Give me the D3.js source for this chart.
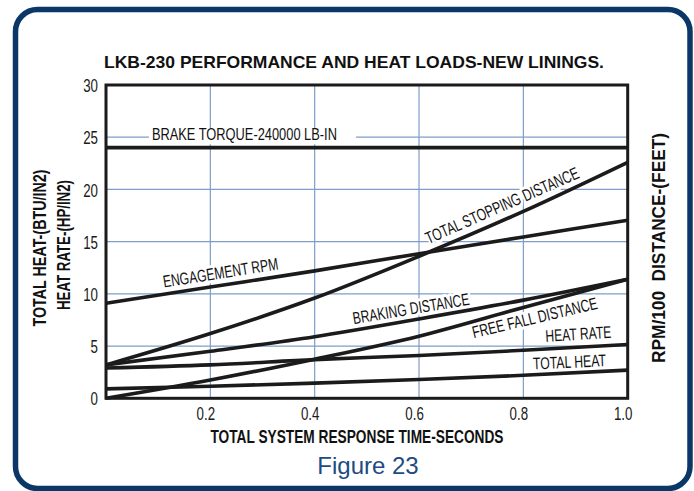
<!DOCTYPE html>
<html><head><meta charset="utf-8">
<script src="https://cdn.jsdelivr.net/npm/d3@7"></script>
<style>
html,body{margin:0;padding:0;background:#fff;}
svg{display:block;}
text{font-family:"Liberation Sans",Arial,Helvetica,sans-serif;}
</style></head><body>
<svg id="chart" width="694" height="491"></svg>
<script>
// ---- data ----
const xValues        = [0, 0.2, 0.4, 0.6, 0.8, 1.0];
const brakeTorque    = [24, 24, 24, 24, 24, 24];
const engagementRpm  = [9.1, 10.65, 12.2, 13.85, 15.45, 17.05];
const totalStopping  = [3.2, 6.2, 9.6, 13.6, 17.9, 22.6];
const brakingDist    = [3.2, 4.5, 5.9, 7.6, 9.4, 11.4];
const freeFallDist   = [0, 1.75, 3.75, 5.95, 8.7, 11.4];
const heatRate       = [2.9, 3.2, 3.7, 4.1, 4.6, 5.15];
const totalHeat      = [0.9, 1.15, 1.45, 1.8, 2.2, 2.7];
const xTicks = [0.2, 0.4, 0.6, 0.8, 1.0];
const yTicks = [0, 5, 10, 15, 20, 25, 30];
const seriesNames = ["BRAKE TORQUE-240000 LB-IN", "ENGAGEMENT RPM", "TOTAL STOPPING DISTANCE",
  "BRAKING DISTANCE", "FREE FALL DISTANCE", "HEAT RATE", "TOTAL HEAT"];
// label anchors in data units (x, y)
const labelAnchorX = [0.088, 0.111, 0.618, 0.475, 0.705, 0.843, 0.819];
const labelAnchorY = [24.7, 10.6, 14.75, 7.1, 5.76, 5.4, 2.75];
const titleText = "LKB-230 PERFORMANCE AND HEAT LOADS-NEW LININGS.";
const xTitle = "TOTAL SYSTEM RESPONSE TIME-SECONDS";
const yTitle1 = "TOTAL HEAT-(BTU/IN2)";
const yTitle2 = "HEAT RATE-(HP/IN2)";
const y2Title = "RPM/100\u00a0\u00a0DISTANCE-(FEET)";
const figText = "Figure 23";

const allSeries = [brakeTorque, engagementRpm, totalStopping, brakingDist, freeFallDist, heatRate, totalHeat];

// ---- styling / layout ----
const labelAngle = [0, 9, 23.7, 9.5, 13.3, 3.5, 2.7];
const labelLen   = [185, 116.5, 166, 118, 128, 66, 73];
const L = 106, R = 627.7, T = 85, B = 398.3;
const ink = "#1b1b1b", grid = "#7f9dc8", navy = "#0b3768";

const svg = d3.select("#chart");
const x = d3.scaleLinear().domain([0, 1]).range([L, R]);
const y = d3.scaleLinear().domain([0, 30]).range([B, T]);

// frame
svg.append("rect").attr("x", 15.5).attr("y", 9.5).attr("width", 674.5).attr("height", 479)
  .attr("rx", 22).attr("fill", "#fff").attr("stroke", navy).attr("stroke-width", 5.5);

// title
svg.append("text").attr("x", 104).attr("y", 68).attr("font-size", 17).attr("font-weight", "bold")
  .attr("fill", "#111").attr("textLength", 500).attr("lengthAdjust", "spacingAndGlyphs").text(titleText);

// gridlines
const g = svg.append("g");
g.selectAll("line.vg").data(xTicks.filter(d => d < 1)).join("line")
  .attr("x1", d => x(d)).attr("x2", d => x(d)).attr("y1", T).attr("y2", B)
  .attr("stroke", grid).attr("stroke-width", 1.2);
g.selectAll("line.hg").data(yTicks.filter(d => d > 0 && d < 30)).join("line")
  .attr("x1", L).attr("x2", R).attr("y1", d => y(d)).attr("y2", d => y(d))
  .attr("stroke", grid).attr("stroke-width", 1.2);

// label halos (hide gridlines under labels)
function placeLabel(sel, i) {
  sel.attr("transform", `translate(${x(labelAnchorX[i])},${y(labelAnchorY[i])}) rotate(${-labelAngle[i]})`)
    .attr("font-size", 17).attr("textLength", labelLen[i]).attr("lengthAdjust", "spacingAndGlyphs")
    .text(seriesNames[i]);
}
const halo = svg.append("g");
halo.append("rect").attr("x", x(labelAnchorX[0]) - 3).attr("y", y(labelAnchorY[0]) - 12)
  .attr("width", labelLen[0] + 22).attr("height", 16).attr("fill", "#fff");
seriesNames.forEach((n, i) => {
  if (i === 0) return;
  halo.append("text").call(placeLabel, i).attr("fill", "#fff").attr("stroke", "#fff")
    .attr("stroke-width", 6).attr("stroke-linejoin", "round");
});

// data lines
const line = d3.line().x((d, i) => x(xValues[i])).y(d => y(d)).curve(d3.curveMonotoneX);
svg.append("g").selectAll("path").data(allSeries).join("path")
  .attr("d", d => line(d)).attr("fill", "none").attr("stroke", ink)
  .attr("stroke-width", 3.6).attr("stroke-linecap", "butt");

// plot border
svg.append("rect").attr("x", L).attr("y", T).attr("width", R - L).attr("height", B - T)
  .attr("fill", "none").attr("stroke", ink).attr("stroke-width", 3);

// labels
const lab = svg.append("g").attr("fill", "#111");
seriesNames.forEach((n, i) => lab.append("text").call(placeLabel, i));

// axes
function condense(sel, f) {
  sel.each(function () {
    const len = this.getComputedTextLength();
    d3.select(this).attr("textLength", len * f).attr("lengthAdjust", "spacingAndGlyphs");
  });
}
const yAxis = svg.append("g").attr("transform", `translate(${L},0)`)
  .call(d3.axisLeft(y).tickValues(yTicks).tickSize(0).tickPadding(8).tickFormat(d3.format("d")));
yAxis.select(".domain").remove();
yAxis.selectAll("text").attr("font-size", 17.5).attr("font-family", null).attr("fill", "#1a1a1a")
  .attr("dy", "0.38em").call(condense, 0.76);

const xAxis = svg.append("g").attr("transform", `translate(0,${B})`)
  .call(d3.axisBottom(x).tickValues(xTicks).tickSize(0).tickPadding(9).tickFormat(d3.format(".1f")));
xAxis.select(".domain").remove();
xAxis.selectAll("text").attr("font-size", 17.5).attr("font-family", null).attr("fill", "#1a1a1a")
  .attr("dx", -5).call(condense, 0.76);

// axis titles
function boldTitle(tr, len, txt, anchorX, anchorY) {
  return svg.append("text").attr("transform", tr).attr("text-anchor", "middle")
    .attr("font-size", 17.5).attr("font-weight", "bold").attr("fill", "#111")
    .attr("textLength", len).attr("lengthAdjust", "spacingAndGlyphs").text(txt);
}
boldTitle("translate(357,443)", 293, xTitle);
boldTitle("translate(46,248) rotate(-90)", 157, yTitle1);
boldTitle("translate(70,245) rotate(-90)", 130, yTitle2);
boldTitle("translate(665,248) rotate(-90)", 230, y2Title);

// figure caption
svg.append("text").attr("x", 368).attr("y", 474).attr("text-anchor", "middle")
  .attr("font-size", 24).attr("fill", "#1d4b82").text(figText);
</script>
</body></html>
